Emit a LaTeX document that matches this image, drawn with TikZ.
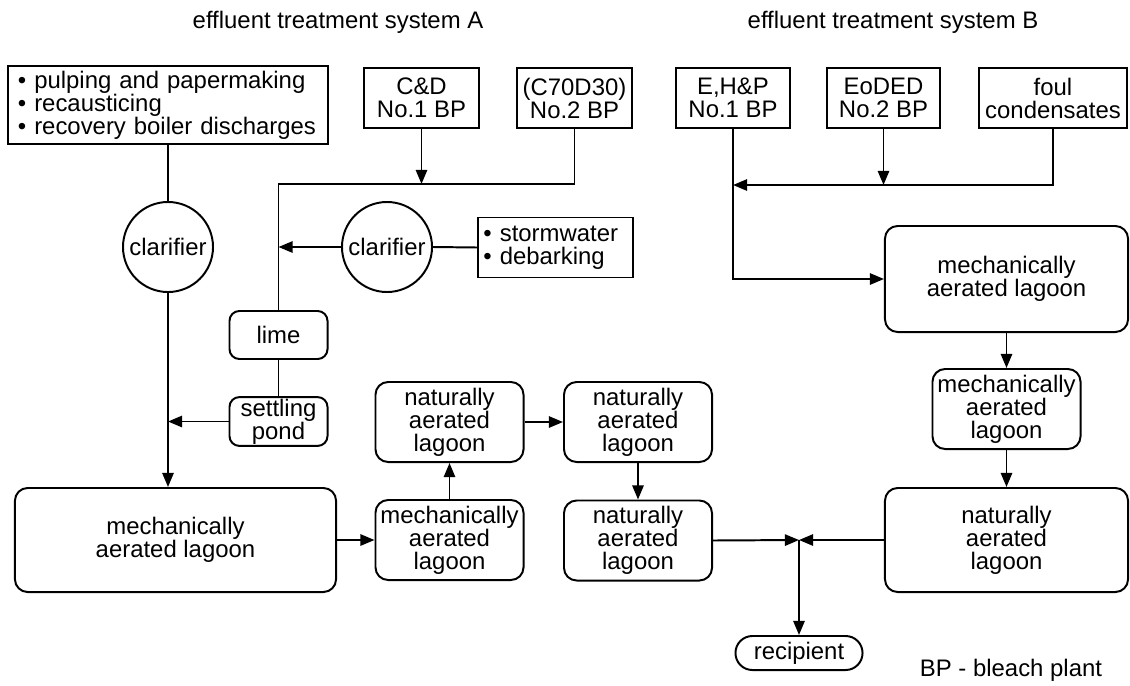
\documentclass[tikz,border=0pt]{standalone}
\usepackage{fontspec}
\setmainfont{Liberation Sans}
\usepackage{tikz}
\usetikzlibrary{arrows.meta}
\tikzstyle{source} = [rectangle, 
minimum width=2.875cm, 
minimum height=1.5cm, 
inner sep=2pt, 
align=center, 
draw=black, line width=1.4pt]
\tikzstyle{lagoon} = [rectangle, 
rounded corners=9pt, 
minimum width=3.7cm, 
minimum height=2cm, 
inner sep=2pt, 
align=center, 
draw=black, line width=1.4pt]
\tikzstyle{clarif} = [circle, 
minimum size=2.25cm, 
inner sep=0pt, 
draw=black, line width=1.4pt]
\tikzstyle{pipe} = [line width=1.4pt,draw=black]
\tikzstyle{arrow} = [line width=1.4pt,-{Triangle[length=10pt,width=8pt]},draw=black]

\begin{document}
\begin{tikzpicture}[x=0.025cm, y=-0.025cm, font=\fontsize{17}{16.4}\selectfont]
        \useasboundingbox (0,0) rectangle (1130,685);

        % Titulos
        \node (titA) at (338,22) {effluent treatment system A};
        \node (titB) at (893,22) {effluent treatment system B};
        \node (bp) at (1011,670) {BP - bleach plant};

        % Sistema A
        \node [source, minimum width=8cm, minimum height=1.95cm, text width=7.5cm, align=left] (pulp) at (168,105) {• pulping and papermaking\\ • recausticing\\ • recovery boiler discharges};
        \node [source] (cd) at (421.5,98) {C\&D\\ No.1 BP};
        \node [source] (c70) at (574.5,98) {(C70D30)\\ No.2 BP};
        \node [clarif] (clarA) at (168,247) {clarifier};
        \node [clarif] (clarS) at (387,247) {clarifier};
        \node [source, minimum width=3.875cm, text width=3.6cm, align=left] (storm) at (555.5,247.5) {• stormwater\\ • debarking};
        \node [lagoon, minimum width=2.45cm, minimum height=1.2cm, rounded corners=7pt] (lime) at (278.5,335) {lime};
        \node [lagoon, minimum width=2.45cm, minimum height=1.22cm, inner ysep=0pt, rounded corners=7pt] (pond) at (278.5,421.5) {settling\\ pond};
        \node [lagoon, minimum width=8.025cm, minimum height=2.6cm] (mechA) at (175.5,540) {mechanically\\ aerated lagoon};
        \node [lagoon] (mechA2) at (449.5,540) {mechanically\\ aerated\\ lagoon};
        \node [lagoon] (natA1) at (449.5,422) {naturally\\ aerated\\ lagoon};
        \node [lagoon] (natA2) at (638,422) {naturally\\ aerated\\ lagoon};
        \node [lagoon] (natA3) at (638,540.5) {naturally\\ aerated\\ lagoon};
        \node [lagoon, minimum width=3.175cm, minimum height=0.85cm, rounded corners=12pt] (recip) at (799,653) {recipient};

        % Sistema B
        \node [source, minimum width=2.85cm] (ehp) at (733,98) {E,H\&P\\ No.1 BP};
        \node [source, minimum width=2.825cm] (eod) at (883.5,98) {EoDED\\ No.2 BP};
        \node [source, minimum width=3.7cm] (foul) at (1053,98) {foul\\ condensates};
        \node [lagoon, minimum width=6.075cm, minimum height=2.65cm] (mechB) at (1006.5,279) {mechanically\\ aerated lagoon};
        \node [lagoon] (mechB2) at (1006.5,409) {mechanically\\ aerated\\ lagoon};
        \node [lagoon, minimum width=6.075cm, minimum height=2.6cm] (natB) at (1006.5,540) {naturally\\ aerated\\ lagoon};

        % Puntos de union
        \coordinate (jA) at (278.5,184);
        \coordinate (jB) at (733,185);
        \coordinate (jR) at (799,540);

        % Conexiones sistema A
        \draw [pipe] (c70.south) |- (jA) -- (lime.north);
        \draw [arrow] (cd.south) -- (cd.south |- jA);
        \draw [pipe] (storm.west) -- (clarS.east);
        \draw [arrow] (clarS.west) -- (jA |- clarS.west);
        \draw [pipe] (lime.south) -- (pond.north);
        \draw [pipe] (pulp.south) -- (clarA.north);
        \draw [arrow] (clarA.south) -- (clarA.south |- mechA.north);
        \draw [arrow] (pond.west) -- (clarA |- pond.west);
        \draw [arrow] (mechA.east) -- (mechA2.west);
        \draw [arrow] (mechA2.north) -- (natA1.south);
        \draw [arrow] (natA1.east) -- (natA2.west);
        \draw [arrow] (natA2.south) -- (natA3.north);
        \draw [arrow] (natA3.east) -- (jR);

        % Conexiones sistema B
        \draw [pipe] (ehp.south) -- (jB);
        \draw [arrow] (jB) |- (mechB.west);
        \draw [arrow] (foul.south) |- (jB);
        \draw [arrow] (eod.south) -- (eod.south |- jB);
        \draw [arrow] (mechB.south) -- (mechB2.north);
        \draw [arrow] (mechB2.south) -- (natB.north);
        \draw [arrow] (natB.west) -- (jR);
        \draw [arrow] (jR) -- (recip.north);
    \end{tikzpicture}
\end{document}
